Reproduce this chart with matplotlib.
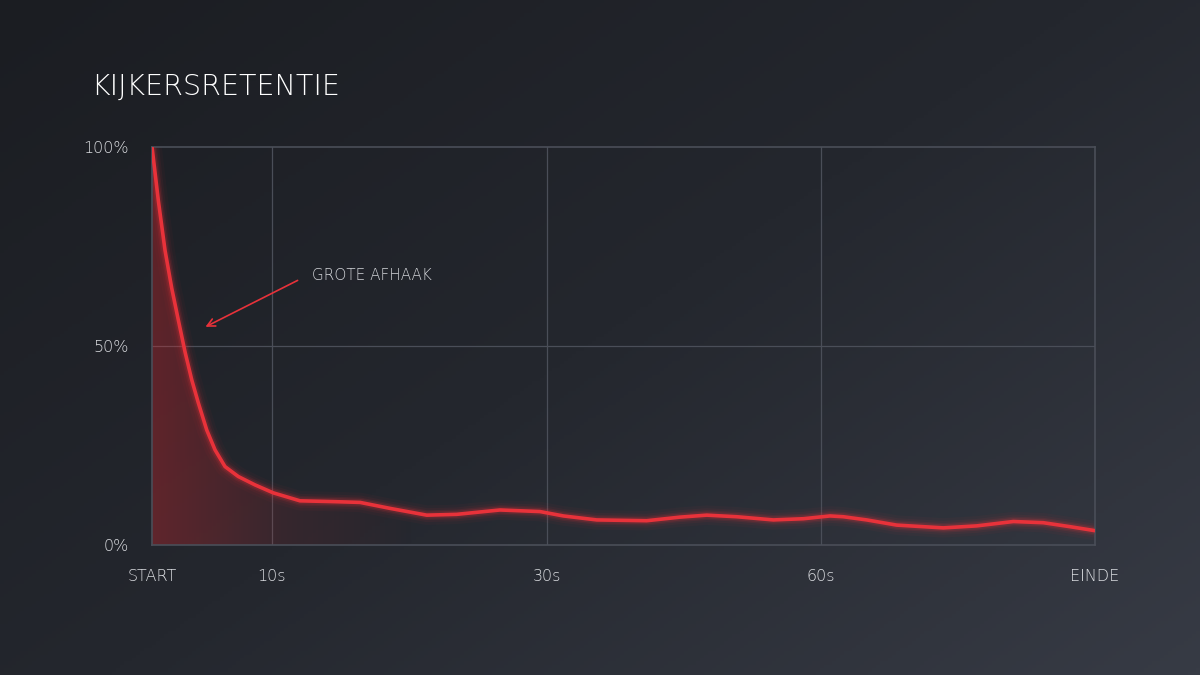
import numpy as np
import matplotlib.pyplot as plt
from matplotlib.colors import LinearSegmentedColormap

# position along the time axis (0 = start, 100 = end) and retention in %
pos = [0, 0.67, 1.38, 2.09, 2.79, 3.50, 4.21, 4.91, 5.80, 6.68, 7.74, 9.15, 10.92,
       12.86, 15.69, 19.23, 22.06, 25.24, 29.13, 32.31, 36.90, 41.14, 43.62, 47.16,
       52.46, 55.99, 58.82, 62.0, 65.89, 69.07, 71.90, 73.31, 75.79, 78.97, 83.91,
       87.45, 91.34, 94.52, 97.35, 100]
retention = [100, 86.5, 74.0, 64.5, 56.5, 48.5, 41.5, 35.7, 28.9, 23.9, 19.7, 17.2, 15.1,
             13.1, 11.1, 10.9, 10.7, 9.2, 7.5, 7.7, 8.8, 8.4, 7.3, 6.3,
             6.1, 7.0, 7.5, 7.1, 6.3, 6.6, 7.3, 7.1, 6.3, 5.0, 4.3,
             4.8, 5.9, 5.6, 4.6, 3.6]

tick_pos = [0, 12.7, 41.9, 70.9, 100]
tick_labels = ['START', '10s', '30s', '60s', 'EINDE']
y_ticks = [0, 50, 100]
y_labels = ['0%', '50%', '100%']

title = 'KIJKERSRETENTIE'
note = 'GROTE AFHAAK'

plt.rcParams['font.family'] = ['DejaVu Sans']

fig = plt.figure(figsize=(12, 6.75), dpi=100)

# background gradient
bg = fig.add_axes([0, 0, 1, 1])
gx, gy = np.meshgrid(np.linspace(0, 1, 300), np.linspace(0, 1, 200))
grad = 0.55 * gx + 0.45 * gy
bg_cmap = LinearSegmentedColormap.from_list('bg', ['#1b1d22', '#24272e', '#373b45'])
bg.imshow(grad, cmap=bg_cmap, aspect='auto', extent=[0, 1, 1, 0])
bg.axis('off')

ax = fig.add_axes([0.1267, 0.1926, 0.7858, 0.5896])
ax.set_facecolor('none')
ax.set_xlim(0, 100)
ax.set_ylim(0, 100)

red = '#e8323a'

# gradient fill under the curve
fill = ax.fill_between(pos, retention, 0, color='none')
fx = np.linspace(0, 1, 256).reshape(1, -1)
fill_cmap = LinearSegmentedColormap.from_list(
    'fill', [(0.9, 0.15, 0.18, 0.32), (0.9, 0.15, 0.18, 0.10), (0.9, 0.15, 0.18, 0.0)])
img = ax.imshow(fx, cmap=fill_cmap, aspect='auto', extent=[0, 28, 0, 100],
                interpolation='bicubic', zorder=1)
img.set_clip_path(fill.get_paths()[0], transform=ax.transData)

# glow
for lw, a in [(14, 0.04), (10, 0.06), (7, 0.1), (5, 0.16)]:
    ax.plot(pos, retention, color=red, lw=lw, alpha=a, solid_capstyle='round',
            solid_joinstyle='round', zorder=2)
ax.plot(pos, retention, color=red, lw=2.6, solid_capstyle='round',
        solid_joinstyle='round', zorder=3)

# grid and frame
grid_c = '#4a4e58'
ax.axhline(50, color=grid_c, lw=0.9, zorder=0)
for t in tick_pos[1:-1]:
    ax.axvline(t, color=grid_c, lw=0.9, zorder=0)
for s in ax.spines.values():
    s.set_color(grid_c)
    s.set_linewidth(1.2)

ax.set_xticks(tick_pos)
ax.set_xticklabels(tick_labels)
ax.set_yticks(y_ticks)
ax.set_yticklabels(y_labels)
ax.tick_params(length=0, colors='#dcdee2', labelsize=11.5)
ax.tick_params(axis='x', pad=17)
ax.tick_params(axis='y', pad=17)
for lab in ax.get_xticklabels() + ax.get_yticklabels():
    lab.set_fontweight('light')

ax.annotate('', xy=(5.4, 54.5), xytext=(15.7, 66.8),
            arrowprops=dict(arrowstyle='->', color=red, lw=1.2, mutation_scale=14))
ax.text(17.0, 67.8, note, color='#d4d6da', fontsize=11, fontweight='light',
        va='center', ha='left')

fig.text(0.076, 0.872, title, color='#ffffff', fontsize=20.5, fontweight='light',
         va='center', ha='left')

fig.savefig('out.png', dpi=100)
